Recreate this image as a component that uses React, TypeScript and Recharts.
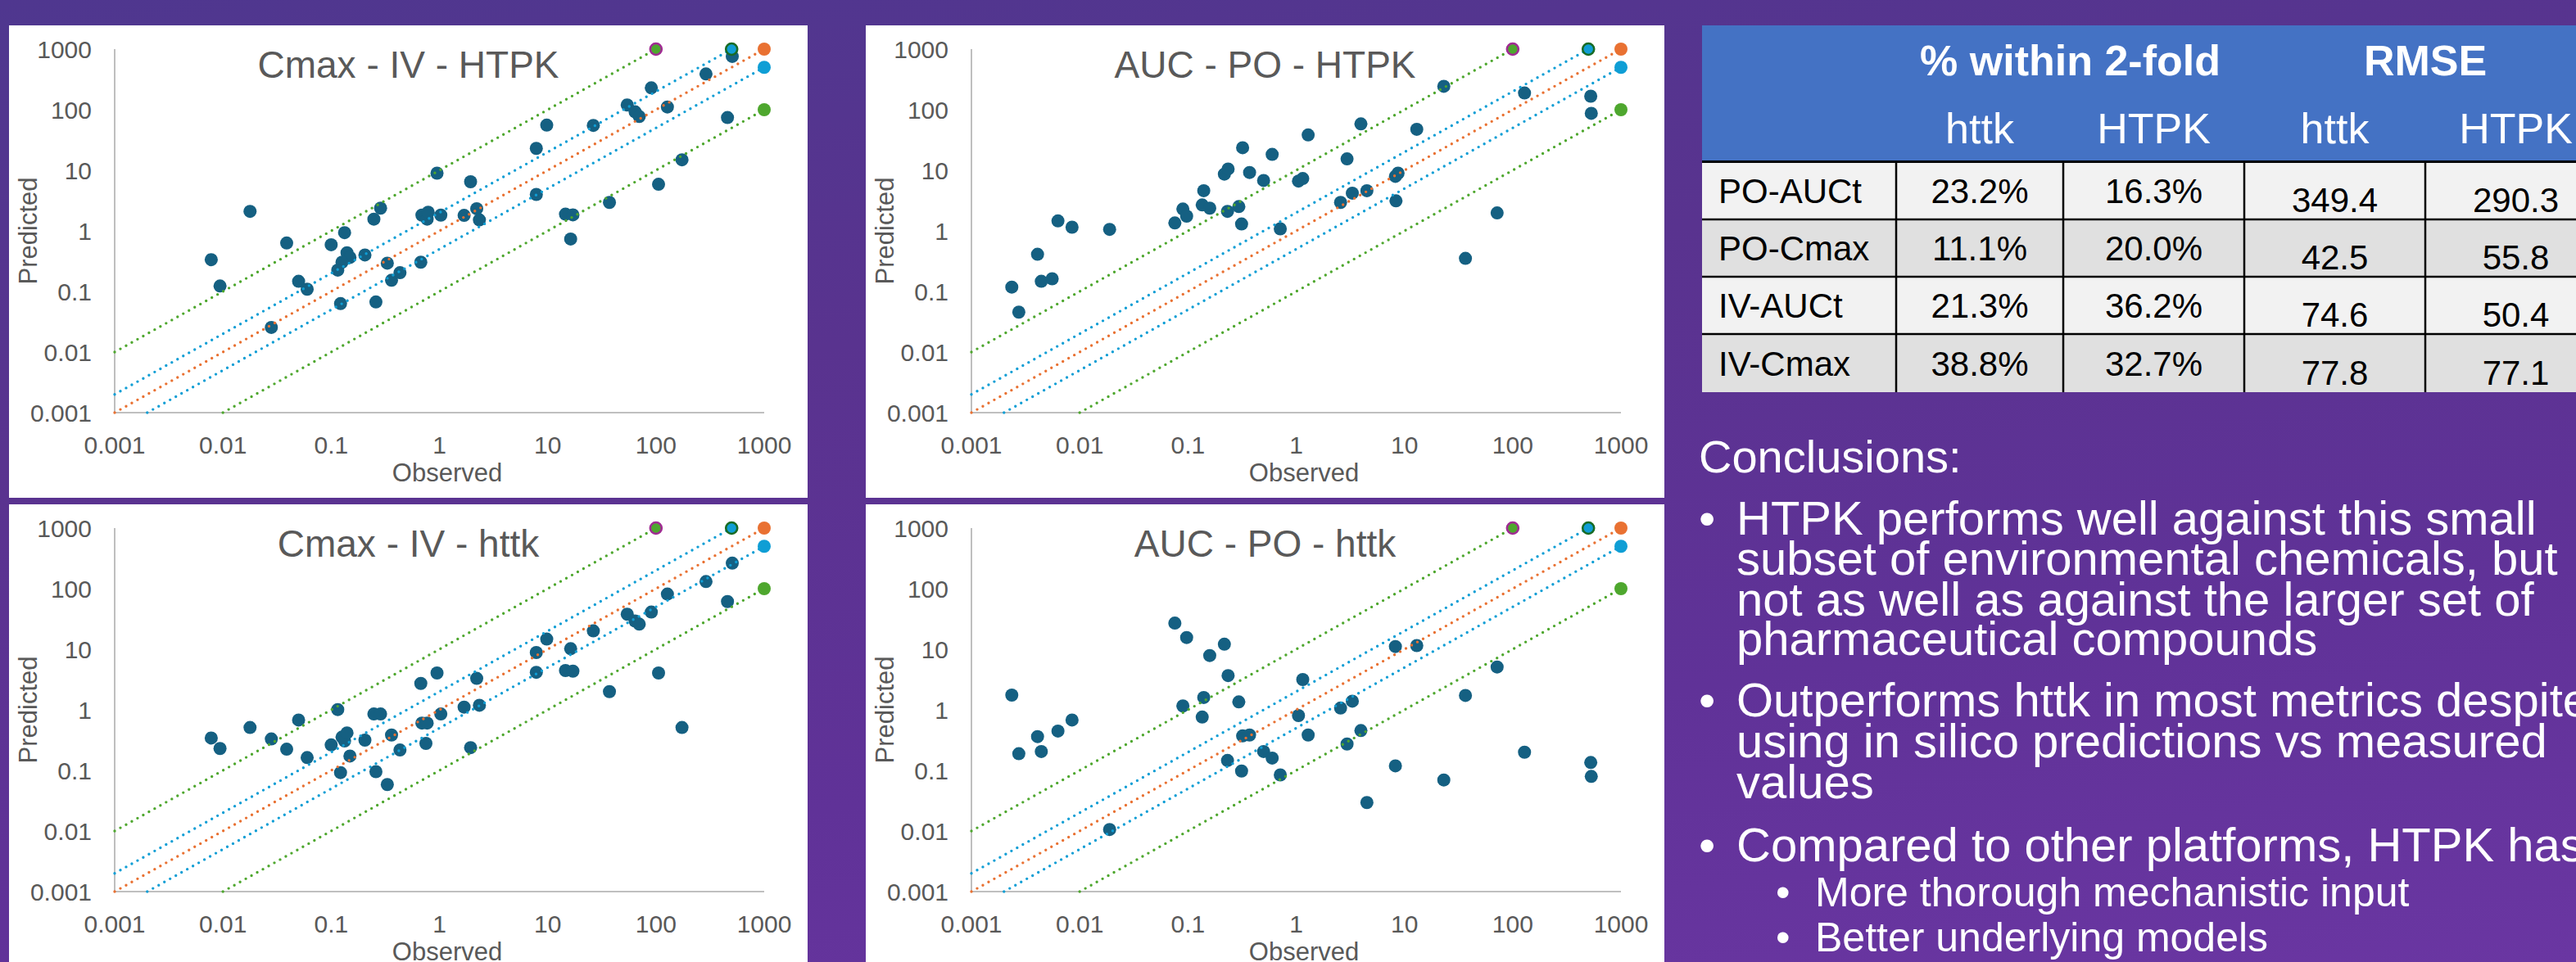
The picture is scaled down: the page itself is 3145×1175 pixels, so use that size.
import React from 'react';
import { ScatterChart, Scatter, XAxis, YAxis } from 'recharts';

const FONT = '"Liberation Sans", Arial, sans-serif';
const AXIS_TICKS = [0.001, 0.01, 0.1, 1, 10, 100, 1000];

// Cmax - IV - HTPK
const CMAX_IV_HTPK_OBS = [0.0078, 0.0094, 0.0178, 0.0388, 0.028, 0.05, 0.06, 0.1, 0.133, 0.14, 0.149, 0.126, 0.115, 0.122, 0.205, 0.248, 0.286, 0.259, 0.33, 0.361, 0.432, 0.673, 0.689, 0.77, 0.787, 0.95, 1.03, 1.69, 1.94, 2.21, 2.34, 7.85, 7.85, 9.8, 14.6, 17.1, 16.3, 26.4, 37.2, 54.3, 64.2, 70.1, 90.6, 105.7, 127.6, 174, 290, 458, 507];
const CMAX_IV_HTPK_PRED = [0.335, 0.123, 2.1, 0.63, 0.0255, 0.147, 0.109, 0.59, 0.935, 0.436, 0.365, 0.304, 0.225, 0.063, 0.4, 1.56, 2.37, 0.067, 0.293, 0.153, 0.204, 0.304, 1.82, 1.56, 2.03, 8.97, 1.82, 1.8, 6.47, 2.32, 1.52, 3.99, 23, 55.6, 1.89, 1.84, 0.735, 55, 2.95, 120, 92.4, 77.1, 229, 5.87, 111, 14.9, 389, 74.3, 757];

// AUC - PO - HTPK
const AUC_PO_HTPK_OBS = [0.00236, 0.00274, 0.00408, 0.00442, 0.00557, 0.0063, 0.0085, 0.0189, 0.0757, 0.0898, 0.0973, 0.1355, 0.14, 0.159, 0.217, 0.235, 0.232, 0.295, 0.313, 0.32, 0.371, 0.5, 0.6, 0.713, 1.05, 1.15, 1.29, 2.57, 2.95, 3.3, 3.96, 4.5, 8.25, 8.73, 8.35, 13, 23.1, 36.6, 71.8, 128.6, 526, 532];
const AUC_PO_HTPK_PRED = [0.118, 0.0456, 0.411, 0.147, 0.162, 1.46, 1.15, 1.06, 1.35, 2.29, 1.75, 2.68, 4.61, 2.37, 8.65, 10.5, 2.1, 2.52, 1.3, 23.6, 9.19, 6.79, 18.3, 1.08, 6.63, 7.31, 38.3, 2.95, 15.4, 4.19, 58.3, 4.61, 7.94, 8.97, 3.13, 47.5, 243, 0.352, 1.98, 189, 167, 87.1];

// Cmax - IV - httk
const CMAX_IV_HTTK_OBS = [0.0078, 0.0094, 0.0178, 0.028, 0.0388, 0.05, 0.06, 0.1, 0.115, 0.126, 0.133, 0.14, 0.149, 0.122, 0.205, 0.248, 0.286, 0.259, 0.33, 0.361, 0.432, 0.673, 0.689, 0.77, 0.75, 0.95, 1.03, 1.69, 1.94, 2.21, 2.34, 7.85, 7.85, 9.8, 14.6, 17.1, 16.3, 26.4, 37.2, 54.3, 64.2, 70.1, 90.6, 105.7, 127.6, 174, 290, 458, 507];
const CMAX_IV_HTTK_PRED = [0.343, 0.23, 0.511, 0.331, 0.224, 0.679, 0.163, 0.264, 1.01, 0.355, 0.306, 0.416, 0.173, 0.092, 0.316, 0.853, 0.853, 0.0955, 0.0585, 0.384, 0.217, 2.73, 0.605, 0.605, 0.279, 4.06, 0.853, 1.11, 0.238, 3.31, 1.19, 8.83, 4.16, 14.7, 4.45, 4.35, 10.2, 20.1, 2, 37.9, 29.2, 26, 41.1, 4.06, 81.5, 0.511, 131, 61.2, 264];

// AUC - PO - httk
const AUC_PO_HTTK_OBS = [0.00236, 0.00274, 0.00408, 0.00442, 0.0063, 0.0085, 0.0189, 0.0757, 0.0898, 0.0973, 0.1355, 0.14, 0.159, 0.217, 0.232, 0.235, 0.295, 0.313, 0.32, 0.371, 0.5, 0.6, 0.713, 1.05, 1.15, 1.29, 2.57, 2.95, 3.3, 3.96, 4.5, 8.25, 8.25, 13, 23.1, 36.6, 71.8, 128.6, 526, 532];
const AUC_PO_HTTK_PRED = [1.75, 0.189, 0.362, 0.205, 0.446, 0.679, 0.0106, 27, 1.16, 15.6, 0.76, 1.6, 7.87, 12.1, 0.146, 3.67, 1.35, 0.0977, 0.371, 0.384, 0.205, 0.16, 0.0843, 0.805, 3.16, 0.384, 1.07, 0.273, 1.39, 0.455, 0.0295, 11.1, 0.119, 11.5, 0.0695, 1.73, 5.1, 0.2, 0.135, 0.0796];

// fold-error guide lines (start / end points)
const GUIDE_OBS = [[0.001, 100], [0.001, 500], [0.001, 1000], [0.002, 1000], [0.01, 1000]];
const GUIDE_PRED = [[0.01, 1000], [0.002, 1000], [0.001, 1000], [0.001, 500], [0.001, 100]];
const GUIDE_COLORS = ['#4ea72e', '#0f9ed5', '#e97132', '#0f9ed5', '#4ea72e'];
const GUIDE_RIMS = ['#a02b93', '#196b24', '', '', ''];

// table
const ROW_LABELS = ['PO-AUCt', 'PO-Cmax', 'IV-AUCt', 'IV-Cmax'];
const FOLD_HTTK = [23.2, 11.1, 21.3, 38.8];
const FOLD_HTPK = [16.3, 20.0, 36.2, 32.7];
const RMSE_HTTK = [349.4, 42.5, 74.6, 77.8];
const RMSE_HTPK = [290.3, 55.8, 50.4, 77.1];

const DOT = '#156082';
const GREY = '#595959';

const pointsOf = (obs: number[], pred: number[]) => obs.map((x, i) => ({ x, y: pred[i] }));

const dataDot = (p: any) => <circle cx={p.cx} cy={p.cy} r={8} fill={DOT} />;

const guideEnd = (color: string, rim: string) => (p: any) =>
  p.payload && p.payload.end ? (
    <circle cx={p.cx} cy={p.cy} r={rim ? 7 : 8} fill={color} stroke={rim || 'none'} strokeWidth={rim ? 2.6 : 0} />
  ) : (
    <g />
  );

function Panel({ title, left, top, obs, pred }: { title: string; left: number; top: number; obs: number[]; pred: number[] }) {
  const tick = { fill: GREY, fontSize: 30, fontFamily: FONT };
  const axisLine = { stroke: '#bfbfbf', strokeWidth: 2 };
  return (
    <div style={{ position: 'absolute', left, top, width: 975, height: 577, background: '#ffffff' }}>
      <ScatterChart width={975} height={577} margin={{ top: 29, right: 53, left: 0, bottom: 0 }}>
        <XAxis
          type="number"
          dataKey="x"
          scale="log"
          domain={[0.001, 1000]}
          ticks={AXIS_TICKS}
          interval={0}
          height={104}
          tickLine={false}
          axisLine={axisLine}
          tick={tick}
          tickMargin={23}
          tickFormatter={(v: number) => String(v)}
        />
        <YAxis
          type="number"
          dataKey="y"
          scale="log"
          domain={[0.001, 1000]}
          ticks={AXIS_TICKS}
          interval={0}
          width={129}
          tickLine={false}
          axisLine={axisLine}
          tick={tick}
          tickMargin={22}
          tickFormatter={(v: number) => String(v)}
        />
        <Scatter data={pointsOf(obs, pred)} shape={dataDot} isAnimationActive={false} />
        {GUIDE_OBS.map((xs, i) => (
          <Scatter
            key={i}
            data={[
              { x: xs[0], y: GUIDE_PRED[i][0] },
              { x: xs[1], y: GUIDE_PRED[i][1], end: true },
            ]}
            fill={GUIDE_COLORS[i]}
            line={{ stroke: GUIDE_COLORS[i], strokeWidth: 3.4, strokeDasharray: '0 8', strokeLinecap: 'round' }}
            shape={guideEnd(GUIDE_COLORS[i], GUIDE_RIMS[i])}
            isAnimationActive={false}
          />
        ))}
      </ScatterChart>
      <svg width={975} height={577} style={{ position: 'absolute', left: 0, top: 0, pointerEvents: 'none' }}>
        <text x={487.5} y={64} textAnchor="middle" fontSize={46} fill={GREY} fontFamily={FONT}>
          {title}
        </text>
        <text transform="translate(34,251) rotate(-90)" textAnchor="middle" fontSize={31} fill={GREY} fontFamily={FONT}>
          Predicted
        </text>
        <text x={535} y={557} textAnchor="middle" fontSize={31} fill={GREY} fontFamily={FONT}>
          Observed
        </text>
      </svg>
    </div>
  );
}

const COL_X = [2078, 2315, 2519, 2740, 2961, 3182];
const ROW_TOP = [199, 269, 339, 409];
const ROW_H = [68, 68, 68, 70];
const ROW_FILL = ['#f2f2f2', '#e0e0e0', '#f2f2f2', '#e0e0e0'];

function StatsTable() {
  const mid = (c: number) => (COL_X[c] + COL_X[c + 1]) / 2;
  const cols = [
    FOLD_HTTK.map((v) => v.toFixed(1) + '%'),
    FOLD_HTPK.map((v) => v.toFixed(1) + '%'),
    RMSE_HTTK.map((v) => v.toFixed(1)),
    RMSE_HTPK.map((v) => v.toFixed(1)),
  ];
  return (
    <g fontFamily={FONT}>
      <rect x={COL_X[0]} y={31} width={COL_X[5] - COL_X[0]} height={166} fill="#4472c4" />
      {ROW_TOP.map((t, r) => (
        <rect key={r} x={COL_X[0]} y={t} width={COL_X[5] - COL_X[0]} height={ROW_H[r]} fill={ROW_FILL[r]} />
      ))}
      <line x1={COL_X[0]} x2={COL_X[5]} y1={197.5} y2={197.5} stroke="#000" strokeWidth={3} />
      {[268, 338, 408].map((y) => (
        <line key={y} x1={COL_X[0]} x2={COL_X[5]} y1={y} y2={y} stroke="#000" strokeWidth={2.5} />
      ))}
      {COL_X.slice(1, 5).map((x) => (
        <line key={x} x1={x} x2={x} y1={197} y2={479} stroke="#000" strokeWidth={2.5} />
      ))}
      <text x={(COL_X[1] + COL_X[3]) / 2} y={92} textAnchor="middle" fontSize={52} fontWeight="bold" fill="#fff">
        % within 2-fold
      </text>
      <text x={(COL_X[3] + COL_X[5]) / 2} y={92} textAnchor="middle" fontSize={52} fontWeight="bold" fill="#fff">
        RMSE
      </text>
      {['httk', 'HTPK', 'httk', 'HTPK'].map((h, c) => (
        <text key={c} x={mid(c + 1)} y={175} textAnchor="middle" fontSize={52} fill="#fff">
          {h}
        </text>
      ))}
      {ROW_LABELS.map((lab, r) => (
        <g key={lab}>
          <text x={2098} y={ROW_TOP[r] + ROW_H[r] / 2 + 15} fontSize={42} fill="#000">
            {lab}
          </text>
          {cols.map((col, c) => (
            <text
              key={c}
              x={mid(c + 1)}
              y={ROW_TOP[r] + ROW_H[r] / 2 + 15 + (c >= 2 ? 11 : 0)}
              textAnchor="middle"
              fontSize={42}
              fill="#000"
            >
              {col[r]}
            </text>
          ))}
        </g>
      ))}
    </g>
  );
}

const NOTES = [
  { text: 'HTPK performs well against this small', base: 653, bullet: true },
  { text: 'subset of environmental chemicals, but', base: 702 },
  { text: 'not as well as against the larger set of', base: 752 },
  { text: 'pharmaceutical compounds', base: 800 },
  { text: 'Outperforms httk in most metrics despite', base: 875, bullet: true },
  { text: 'using in silico predictions vs measured', base: 925 },
  { text: 'values', base: 975 },
  { text: 'Compared to other platforms, HTPK has', base: 1052, bullet: true },
];
const SUB_NOTES = [
  { text: 'More thorough mechanistic input', base: 1107 },
  { text: 'Better underlying models', base: 1162 },
];

function Notes() {
  return (
    <g fontFamily={FONT} fill="#ffffff">
      <text x={2074} y={577} fontSize={56}>
        Conclusions:
      </text>
      {NOTES.map((n) => (
        <g key={n.text}>
          {n.bullet && (
            <text x={2074} y={n.base} fontSize={58}>
              •
            </text>
          )}
          <text x={2120} y={n.base} fontSize={58}>
            {n.text}
          </text>
        </g>
      ))}
      {SUB_NOTES.map((n) => (
        <g key={n.text}>
          <text x={2168} y={n.base} fontSize={50}>
            •
          </text>
          <text x={2216} y={n.base} fontSize={50}>
            {n.text}
          </text>
        </g>
      ))}
    </g>
  );
}

export default function App() {
  return (
    <div
      style={{
        position: 'absolute',
        left: 0,
        top: 0,
        width: 3145,
        height: 1175,
        overflow: 'hidden',
        background: 'linear-gradient(172deg, #4f378f 0%, #59338f 35%, #603298 70%, #6a36a2 100%)',
        fontFamily: FONT,
      }}
    >
      <Panel title="Cmax - IV - HTPK" left={11} top={31} obs={CMAX_IV_HTPK_OBS} pred={CMAX_IV_HTPK_PRED} />
      <Panel title="AUC - PO - HTPK" left={1057} top={31} obs={AUC_PO_HTPK_OBS} pred={AUC_PO_HTPK_PRED} />
      <Panel title="Cmax - IV - httk" left={11} top={616} obs={CMAX_IV_HTTK_OBS} pred={CMAX_IV_HTTK_PRED} />
      <Panel title="AUC - PO - httk" left={1057} top={616} obs={AUC_PO_HTTK_OBS} pred={AUC_PO_HTTK_PRED} />
      <svg width={3145} height={1175} style={{ position: 'absolute', left: 0, top: 0, pointerEvents: 'none' }}>
        <StatsTable />
        <Notes />
      </svg>
    </div>
  );
}
